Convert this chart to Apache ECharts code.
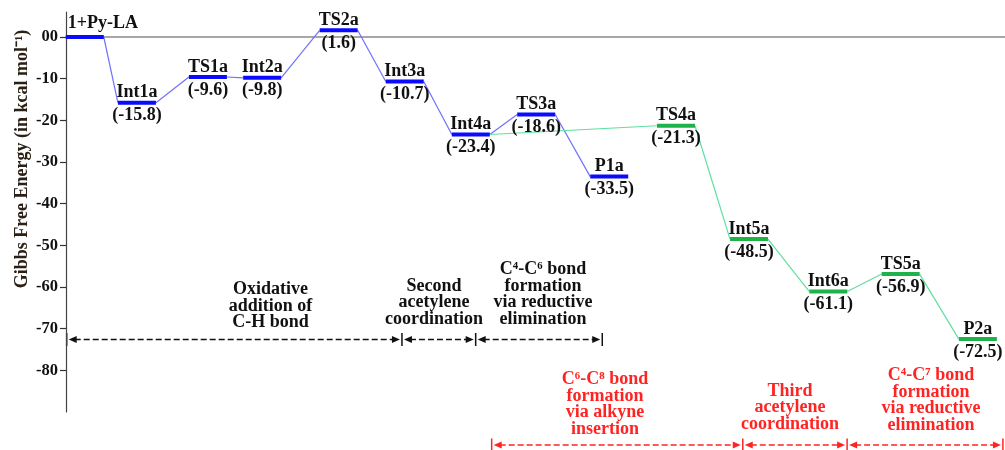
<!DOCTYPE html>
<html><head><meta charset="utf-8">
<script src="https://cdn.jsdelivr.net/npm/echarts@6/dist/echarts.min.js"></script>
<style>html,body{margin:0;padding:0;background:#fff}#c{width:1005px;height:450px}</style>
</head><body><div id="c"></div>
<script>
// ---- data ----
const stateNames = ['1+Py-LA','Int1a','TS1a','Int2a','TS2a','Int3a','Int4a','TS3a','P1a','TS4a','Int5a','Int6a','TS5a','P2a'];
const energies   = [0, -15.8, -9.6, -9.8, 1.6, -10.7, -23.4, -18.6, -33.5, -21.3, -48.5, -61.1, -56.9, -72.5];
const reactionCoord = [0.27, 1.02, 2.04, 2.82, 3.92, 4.87, 5.82, 6.76, 7.81, 8.77, 9.82, 10.96, 12.0, 13.11];
const bluePath  = [0, 1, 2, 3, 4, 5, 6, 7, 8];
const greenPath = [6, 9, 10, 11, 12, 13];
const yTickValues = [0, -10, -20, -30, -40, -50, -60, -70, -80];
const blackBounds = [0.01, 4.83, 5.89, 7.71];
const redBounds   = [6.12, 9.73, 11.23, 13.47];
const blackTexts = [['Oxidative','addition of','C-H bond'], ['Second','acetylene','coordination'], ['C\u2074-C\u2076 bond','formation','via reductive','elimination']];
const redTexts   = [['C\u2076-C\u2078 bond','formation','via alkyne','insertion'], ['Third','acetylene','coordination'], ['C\u2074-C\u2077 bond','formation','via reductive','elimination']];
const yName = 'Gibbs Free Energy (in kcal mol\u207B\u00B9)';

// ---- style ----
const SERIF = '"Liberation Serif","Times New Roman",serif';
const BLUE = '#0a0aff', BLUE_LINK = '#7070ff';
const GREEN = '#1fb24a', GREEN_LINK = '#5ee0a0';
const RED = '#ff2424';
const HW = 19;
const greenSet = new Set(greenPath.slice(1));

const links = [];
[[bluePath, 0], [greenPath, 1]].forEach(([path, c]) => {
  for (let k = 0; k < path.length - 1; k++) {
    const a = path[k], b = path[k + 1];
    links.push([reactionCoord[a], energies[a], reactionCoord[b], energies[b], c]);
  }
});

const chart = echarts.init(document.getElementById('c'), null, {renderer: 'canvas'});
chart.setOption({
  animation: false,
  backgroundColor: '#fff',
  grid: {left: 66, right: 0, top: 12, bottom: 38},
  xAxis: {
    type: 'value', min: 0, max: 13.5,
    axisLine: {show: true, onZero: true, lineStyle: {color: '#8a8a8a', width: 1.5}},
    axisTick: {show: false}, axisLabel: {show: false}, splitLine: {show: false}
  },
  yAxis: {
    type: 'value', min: -90, max: 6, interval: 10,
    axisLine: {show: true, lineStyle: {color: '#444', width: 1.2}},
    axisTick: {show: true, length: 6, customValues: yTickValues, lineStyle: {color: '#333', width: 1.2}},
    axisLabel: {
      customValues: yTickValues, margin: 8, color: '#111',
      fontFamily: SERIF, fontWeight: 'bold', fontSize: 16.5,
      formatter: v => (v === 0 ? '00' : String(v))
    },
    splitLine: {show: false}
  },
  series: [
    {
      type: 'custom', z: 2, clip: false,
      data: links, encode: {x: [0, 2], y: [1, 3]},
      renderItem: (params, api) => {
        const p1 = api.coord([api.value(0), api.value(1)]);
        const p2 = api.coord([api.value(2), api.value(3)]);
        return {type: 'line', shape: {x1: p1[0] + HW, y1: p1[1], x2: p2[0] - HW, y2: p2[1]},
          style: {stroke: api.value(4) ? GREEN_LINK : BLUE_LINK, lineWidth: 1.2}};
      }
    },
    {
      type: 'custom', z: 3, clip: false,
      data: stateNames.map((n, i) => [reactionCoord[i], energies[i], i]),
      encode: {x: 0, y: 1},
      renderItem: (params, api) => {
        const i = api.value(2);
        const p = api.coord([api.value(0), api.value(1)]);
        const col = greenSet.has(i) ? GREEN : BLUE;
        const font = 'bold 18px ' + SERIF;
        const ch = [{type: 'line', shape: {x1: p[0] - HW, y1: p[1], x2: p[0] + HW, y2: p[1]},
          style: {stroke: col, lineWidth: 4}}];
        if (i === 0) {
          ch.push({type: 'text', style: {text: stateNames[i], x: p[0] - HW + 2, y: p[1] - 5,
            align: 'left', verticalAlign: 'bottom', font: font, fill: '#111'}});
        } else {
          ch.push({type: 'text', style: {text: stateNames[i], x: p[0], y: p[1] - 1,
            align: 'center', verticalAlign: 'bottom', font: font, fill: '#111'}});
          ch.push({type: 'text', style: {text: '(' + energies[i].toFixed(1) + ')', x: p[0], y: p[1] + 13,
            align: 'center', verticalAlign: 'middle', font: font, fill: '#111'}});
        }
        return {type: 'group', children: ch};
      }
    }
  ]
});

// ---- annotations ----
function bracket(bounds, y, color) {
  const els = [];
  const px = bounds.map(b => chart.convertToPixel({xAxisIndex: 0}, b));
  px.forEach(x => els.push({type: 'line', shape: {x1: x, y1: y - 6.5, x2: x, y2: y + 6.5}, style: {stroke: color, lineWidth: 1.5}}));
  for (let k = 0; k < px.length - 1; k++) {
    const a = px[k] + 2, b = px[k + 1] - 2;
    els.push({type: 'line', shape: {x1: a + 6, y1: y, x2: b - 6, y2: y}, style: {stroke: color, lineWidth: 1.6, lineDash: [6, 3]}});
    els.push({type: 'polygon', shape: {points: [[a, y], [a + 8, y - 3.5], [a + 8, y + 3.5]]}, style: {fill: color}});
    els.push({type: 'polygon', shape: {points: [[b, y], [b - 8, y - 3.5], [b - 8, y + 3.5]]}, style: {fill: color}});
  }
  return els;
}
function textBlock(lines, cx, lastY, color) {
  const n = lines.length;
  return lines.map((t, k) => ({type: 'text', style: {text: t, x: cx, y: lastY - (n - 1 - k) * 16.5,
    align: 'center', verticalAlign: 'middle', font: 'bold 18px ' + SERIF, fill: color}}));
}
const blackPos = [[270.5, 322.5], [434, 319], [543, 319]];
const redPos = [[605, 429], [790, 424], [931, 425]];
let g = [];
g = g.concat(bracket(blackBounds, 339.5, '#111'));
g = g.concat(bracket(redBounds, 445, RED));
blackTexts.forEach((t, k) => { g = g.concat(textBlock(t, blackPos[k][0], blackPos[k][1], '#111')); });
redTexts.forEach((t, k) => { g = g.concat(textBlock(t, redPos[k][0], redPos[k][1], RED)); });
g.push({type: 'text', x: 22, y: 159, rotation: Math.PI / 2,
  style: {text: yName, align: 'center', verticalAlign: 'middle', font: 'bold 18px ' + SERIF, fill: '#2b2015'}});
chart.setOption({graphic: {elements: g}});
</script></body></html>
